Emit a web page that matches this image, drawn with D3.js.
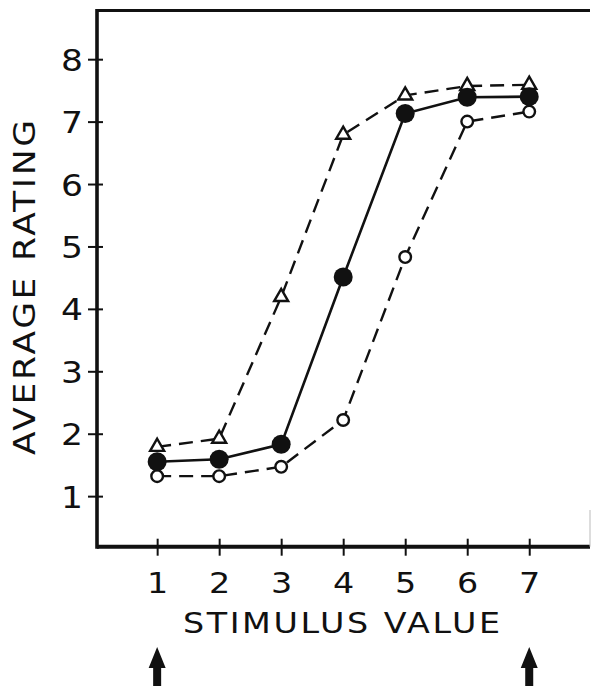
<!DOCTYPE html>
<meta charset="utf-8">
<title>Average rating by stimulus value</title>
<script src="https://d3js.org/d3.v7.min.js"></script>
<style>
body { margin: 0; background: #fff; }
text { font-family: "DejaVu Sans", sans-serif; fill: #111; }
</style>
<div id="chart"></div>
<script>
// data
const stimulus = [1, 2, 3, 4, 5, 6, 7];
const filledVals = [1.55, 1.59, 1.83, 4.51, 7.13, 7.39, 7.40];
const triangleVals = [1.79, 1.92, 4.19, 6.79, 7.42, 7.57, 7.59];
const openVals = [1.32, 1.32, 1.47, 2.22, 4.83, 7.00, 7.16];
const yTicks = [1, 2, 3, 4, 5, 6, 7, 8];
const xTicks = [1, 2, 3, 4, 5, 6, 7];
const markedStimuli = [1, 7];

const width = 591, height = 686;
const box = {left: 97, right: 590, top: 10.5, bottom: 546.7};
const labelFont = "DejaVu Sans, sans-serif";
const stretch = 1.15; // lettering in the original is wider than DejaVu

const svg = d3.select("#chart")
    .append("svg")
    .attr("width", width)
    .attr("height", height);

const x = d3.scaleLinear()
    .domain([0.03, 7.98])
    .range([box.left, box.right]);
const y = d3.scaleLinear()
    .domain([0.19, 8.78])
    .range([box.bottom, box.top]);

// frame
svg.append("line")
    .attr("x1", box.left).attr("x2", box.right)
    .attr("y1", box.top).attr("y2", box.top)
    .attr("stroke", "#111").attr("stroke-width", 3.2);
svg.append("line")
    .attr("x1", box.left).attr("x2", box.right)
    .attr("y1", box.bottom).attr("y2", box.bottom)
    .attr("stroke", "#111").attr("stroke-width", 4);
svg.append("line")
    .attr("x1", box.left).attr("x2", box.left)
    .attr("y1", box.top - 1.6).attr("y2", box.bottom + 2)
    .attr("stroke", "#111").attr("stroke-width", 3.6);
svg.append("line")
    .attr("x1", box.right).attr("x2", box.right)
    .attr("y1", 510).attr("y2", box.bottom)
    .attr("stroke", "#bbb").attr("stroke-width", 1);

// y axis: ticks cross the frame
const yAxis = svg.append("g")
    .attr("transform", `translate(${box.left},0)`)
    .call(d3.axisLeft(y).tickValues(yTicks).tickSize(9));
yAxis.select(".domain").remove();
yAxis.selectAll(".tick line")
    .attr("x2", -9).attr("x1", 6)
    .attr("stroke", "#111").attr("stroke-width", 2);
yAxis.selectAll(".tick text")
    .attr("x", 0)
    .attr("dy", "0.37em")
    .attr("transform", `translate(-14,0) scale(${stretch},1)`)
    .style("font-size", "30px")
    .style("font-family", labelFont)
    .attr("fill", "#111");

// x axis
const xAxis = svg.append("g")
    .attr("transform", `translate(0,${box.bottom})`)
    .call(d3.axisBottom(x).tickValues(xTicks).tickSize(9));
xAxis.select(".domain").remove();
xAxis.selectAll(".tick line")
    .attr("y1", -8).attr("y2", 9)
    .attr("stroke", "#111").attr("stroke-width", 2);
xAxis.selectAll(".tick text")
    .attr("y", 0).attr("dy", 0)
    .attr("transform", `translate(0,46) scale(${stretch},1)`)
    .style("font-size", "29px")
    .style("font-family", labelFont)
    .attr("fill", "#111");

// axis titles
svg.append("text")
    .attr("transform", `translate(183,633) scale(${stretch},1)`)
    .attr("textLength", 317 / stretch)
    .attr("lengthAdjust", "spacing")
    .style("font-size", "29px")
    .text("STIMULUS VALUE");
svg.append("text")
    .attr("transform", `translate(35,455) rotate(-90) scale(${stretch},1)`)
    .attr("textLength", 335 / stretch)
    .attr("lengthAdjust", "spacing")
    .style("font-size", "30px")
    .text("AVERAGE RATING");

// lines
const line = d3.line()
    .x((d, i) => x(stimulus[i]))
    .y(d => y(d));

svg.append("path")
    .datum(triangleVals)
    .attr("d", line)
    .attr("fill", "none").attr("stroke", "#111")
    .attr("stroke-width", 2.4).attr("stroke-dasharray", "14,8");
svg.append("path")
    .datum(openVals)
    .attr("d", line)
    .attr("fill", "none").attr("stroke", "#111")
    .attr("stroke-width", 2.4).attr("stroke-dasharray", "14,8");
svg.append("path")
    .datum(filledVals)
    .attr("d", line)
    .attr("fill", "none").attr("stroke", "#111")
    .attr("stroke-width", 2.6);

// markers
const tri = d3.symbol().type(d3.symbolTriangle).size(85);
svg.append("g")
    .selectAll("path")
    .data(triangleVals)
    .join("path")
    .attr("d", tri)
    .attr("transform", (d, i) => `translate(${x(stimulus[i])},${y(d)})`)
    .attr("fill", "#fff").attr("stroke", "#111").attr("stroke-width", 2.4);

svg.append("g")
    .selectAll("circle")
    .data(openVals)
    .join("circle")
    .attr("cx", (d, i) => x(stimulus[i]))
    .attr("cy", d => y(d))
    .attr("r", 5.8)
    .attr("fill", "#fff").attr("stroke", "#111").attr("stroke-width", 2.4);

svg.append("g")
    .selectAll("circle")
    .data(filledVals)
    .join("circle")
    .attr("cx", (d, i) => x(stimulus[i]))
    .attr("cy", d => y(d))
    .attr("r", 9.5)
    .attr("fill", "#111");

// arrows under the end stimuli
svg.append("g")
    .selectAll("path")
    .data(markedStimuli)
    .join("path")
    .attr("d", d => {
        const cx = x(d);
        return `M${cx},647 L${cx + 8.5},668 L${cx + 4},668 L${cx + 4},690 ` +
               `L${cx - 4},690 L${cx - 4},668 L${cx - 8.5},668 Z`;
    })
    .attr("fill", "#111");
</script>
